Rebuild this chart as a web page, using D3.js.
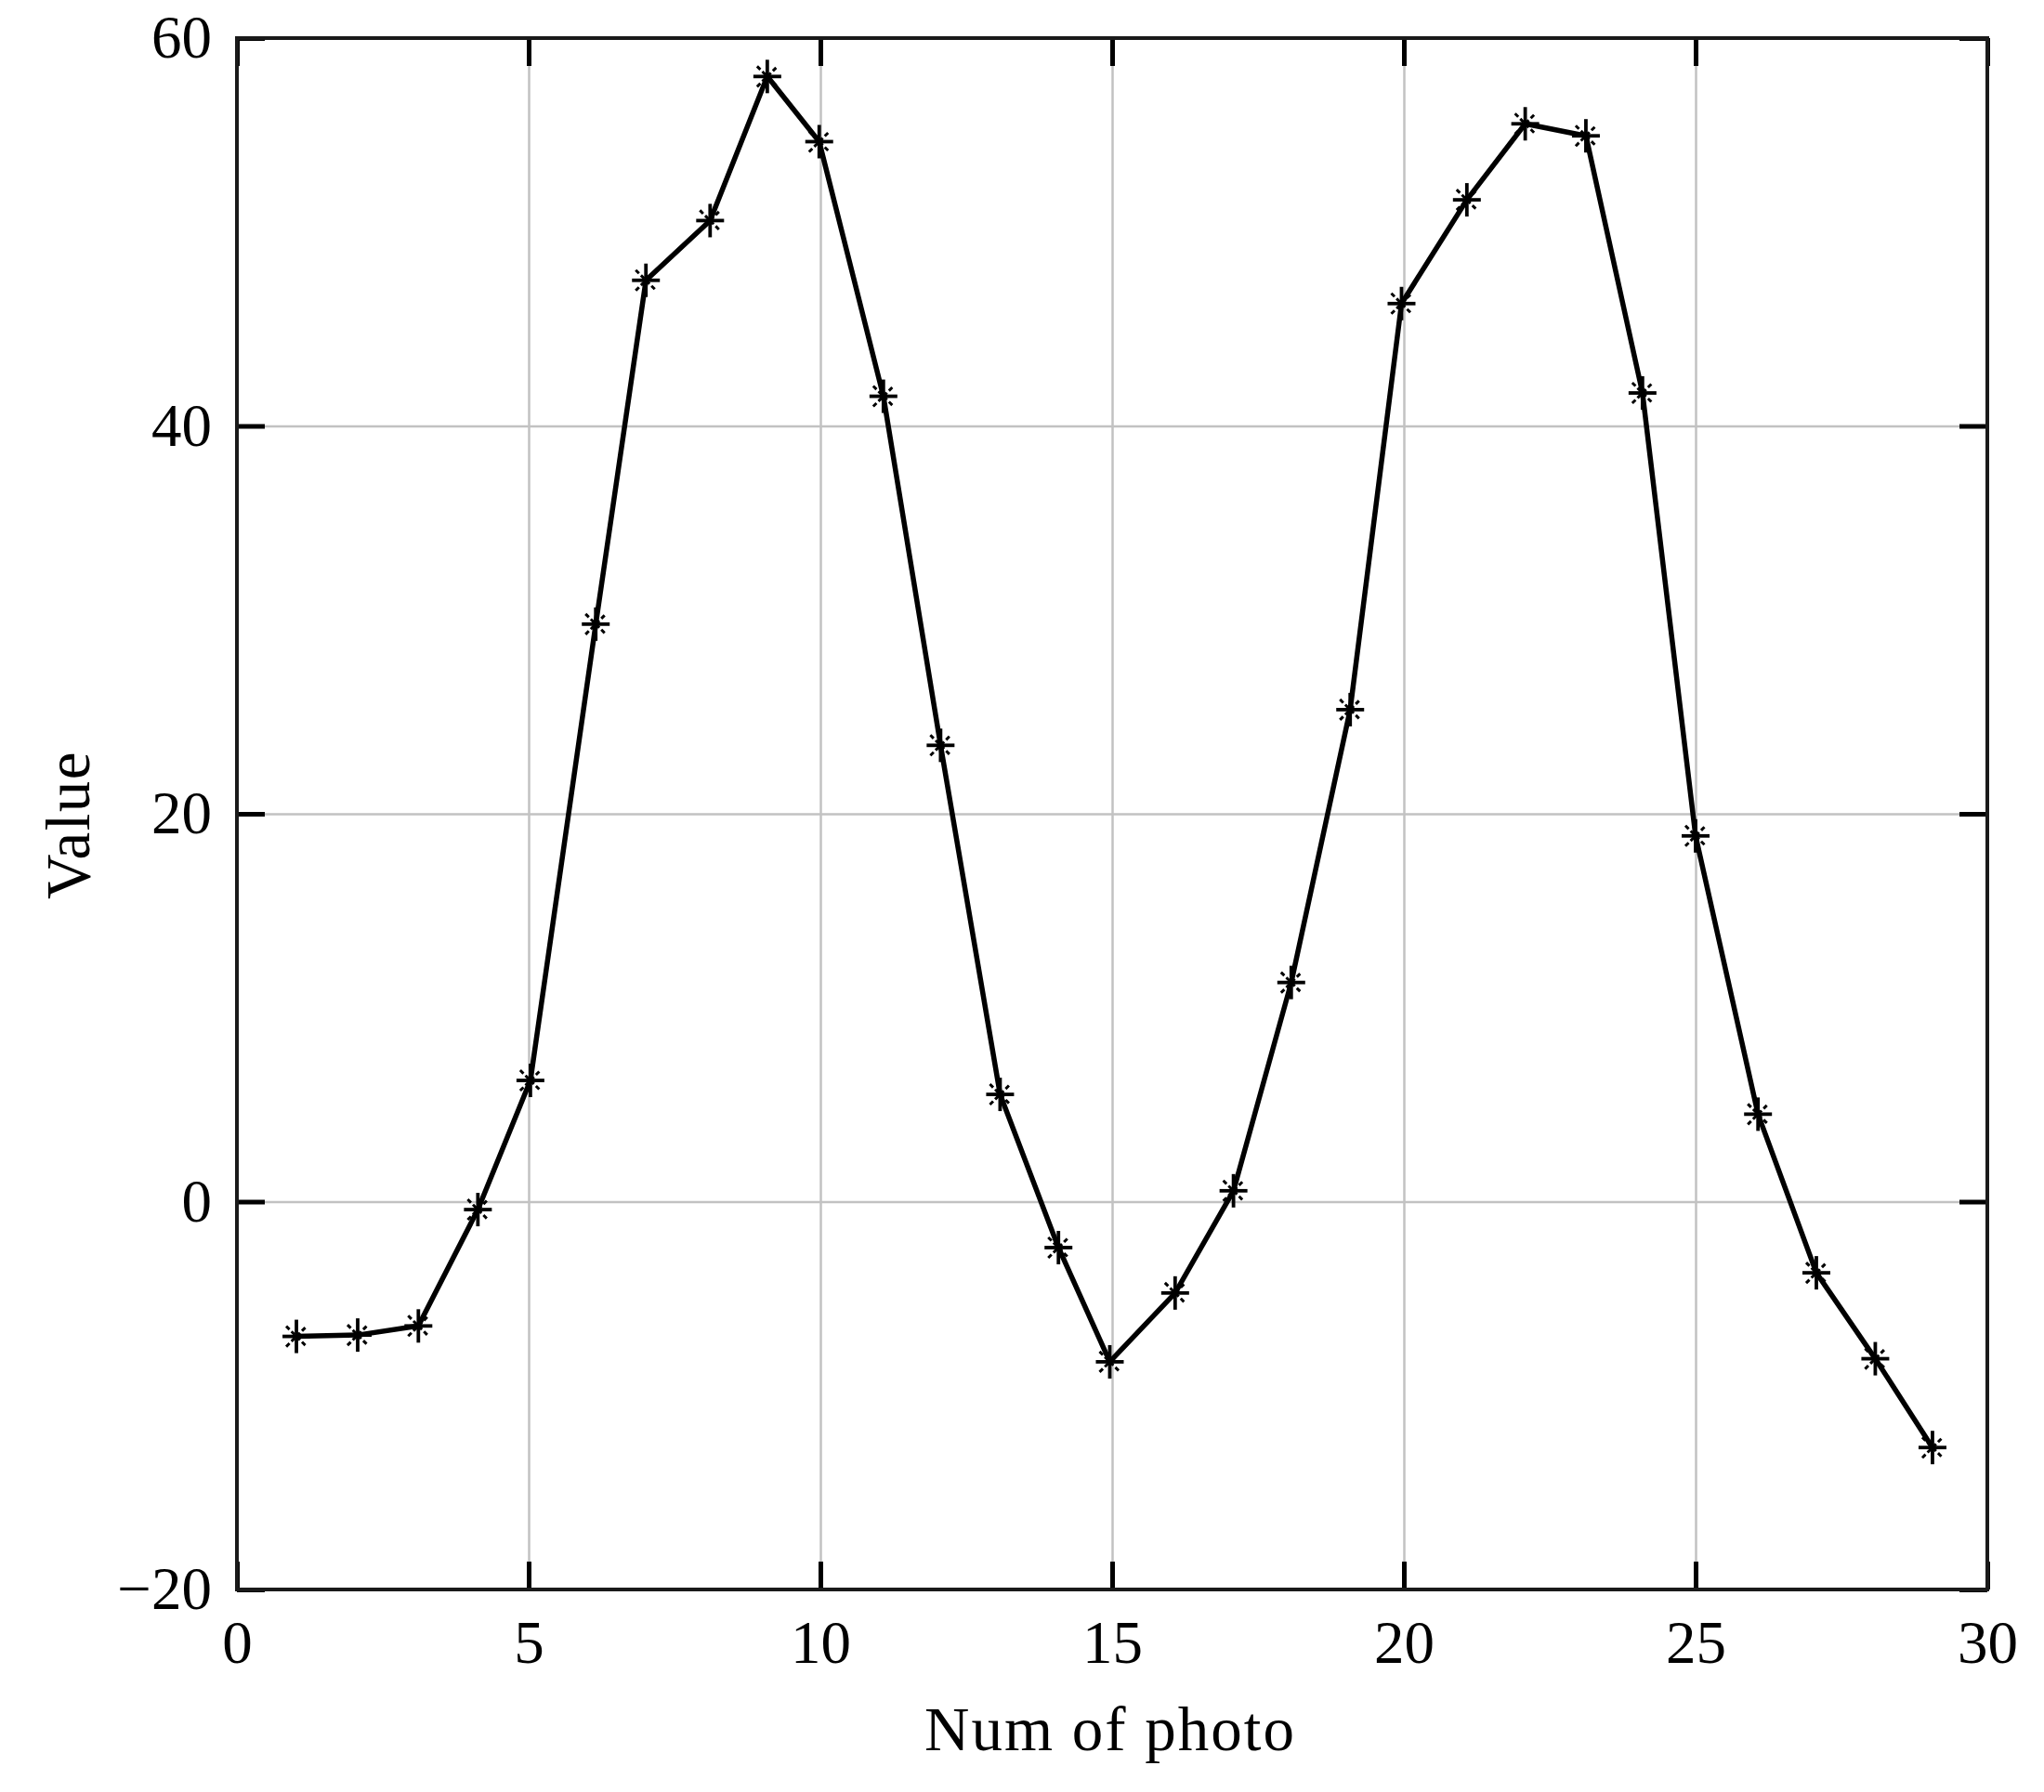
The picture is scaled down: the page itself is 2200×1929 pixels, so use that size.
<!DOCTYPE html>
<html>
<head>
<meta charset="utf-8">
<script src="https://cdn.jsdelivr.net/npm/d3@7"></script>
<style>
  html, body { margin: 0; padding: 0; background: #fff; }
  svg text { font-family: "Palatino Linotype", "Book Antiqua", Palatino, "Liberation Serif", serif; fill: #000; }
</style>
</head>
<body>
<svg id="chart" width="2200" height="1929"></svg>
<script>
// ---- data ----
const photoNum = [1.02, 2.07, 3.11, 4.13, 5.03, 6.15, 7.01, 8.11, 9.09, 9.98,
                  11.08, 12.06, 13.08, 14.08, 14.96, 16.08, 17.08, 18.07, 19.08, 19.96,
                  21.08, 22.08, 23.12, 24.09, 25.0, 26.07, 27.07, 28.08, 29.06];
const values = [-6.95, -6.88, -6.41, -0.41, 6.25, 29.78, 47.51, 50.59, 58.02, 54.66,
                41.53, 23.53, 5.53, -2.37, -8.26, -4.71, 0.56, 11.3, 25.37, 46.31,
                51.66, 55.58, 54.96, 41.7, 18.86, 4.51, -3.67, -8.1, -12.68];
const xTicks = [0, 5, 10, 15, 20, 25, 30];
const yTicks = [-20, 0, 20, 40, 60];
const xGrid = [5, 10, 15, 20, 25];
const yGrid = [0, 20, 40];
const xLabel = "Num of photo";
const yLabel = "Value";

// ---- layout ----
const L = 255, R = 2139, T = 41, B = 1711;
const W = R - L, H = B - T;
const svg = d3.select("#chart");
const g = svg.append("g").attr("transform", `translate(${L},${T})`);

const x = d3.scaleLinear().domain([0, 30]).range([0, W]);
const y = d3.scaleLinear().domain([-20, 60]).range([H, 0]);

// gridlines
const gx = g.append("g").attr("transform", `translate(0,${H})`)
  .call(d3.axisBottom(x).tickValues(xGrid).tickSize(-H).tickFormat(""));
const gy = g.append("g")
  .call(d3.axisLeft(y).tickValues(yGrid).tickSize(-W).tickFormat(""));
[gx, gy].forEach(s => {
  s.select(".domain").remove();
  s.selectAll("line").attr("stroke", "#c2c2c2").attr("stroke-width", 2.5);
});

// data line
const pts = photoNum.map((d, i) => [d, values[i]]);
g.append("path")
  .datum(pts)
  .attr("fill", "none")
  .attr("stroke", "#000")
  .attr("stroke-width", 5.5)
  .attr("stroke-linejoin", "round")
  .attr("d", d3.line().x(d => x(d[0])).y(d => y(d[1])));

// asterisk markers
const mk = g.append("g").selectAll("g").data(pts).join("g")
  .attr("transform", d => `translate(${x(d[0])},${y(d[1])})`);
mk.append("line").attr("x1", -15).attr("x2", 15).attr("y1", 0).attr("y2", 0)
  .attr("stroke", "#000").attr("stroke-width", 3.8);
mk.append("line").attr("x1", 0).attr("x2", 0).attr("y1", -18).attr("y2", 18)
  .attr("stroke", "#000").attr("stroke-width", 3.8);
mk.append("line").attr("x1", -11).attr("x2", 11).attr("y1", -11).attr("y2", 11)
  .attr("stroke", "#000").attr("stroke-width", 3).attr("stroke-dasharray", "5,3");
mk.append("line").attr("x1", -11).attr("x2", 11).attr("y1", 11).attr("y2", -11)
  .attr("stroke", "#000").attr("stroke-width", 3).attr("stroke-dasharray", "5,3");

// axes with inward ticks
const fmt = d3.format("");
const axB = g.append("g").attr("transform", `translate(0,${H})`)
  .call(d3.axisBottom(x).tickValues(xTicks).tickSize(-30).tickPadding(33).tickFormat(fmt));
const axL = g.append("g")
  .call(d3.axisLeft(y).tickValues(yTicks).tickSize(-30).tickPadding(27).tickFormat(fmt));
const axT = g.append("g")
  .call(d3.axisTop(x).tickValues(xTicks).tickSize(-30).tickFormat(""));
const axR = g.append("g").attr("transform", `translate(${W},0)`)
  .call(d3.axisRight(y).tickValues(yTicks).tickSize(-30).tickFormat(""));
[axB, axL, axT, axR].forEach(s => {
  s.select(".domain").remove();
  s.selectAll("line").attr("stroke", "#000").attr("stroke-width", 5);
  s.selectAll("text").attr("font-size", 65).attr("fill", "#000")
    .style("font-family", '"Palatino Linotype", "Book Antiqua", Palatino, "Liberation Serif", serif');
});

// frame
g.append("rect").attr("x", 0).attr("y", 0).attr("width", W).attr("height", H)
  .attr("fill", "none").attr("stroke", "#1a1a1a").attr("stroke-width", 4);

// axis titles
svg.append("text")
  .attr("x", L + W / 2 - 2).attr("y", 1884)
  .attr("text-anchor", "middle")
  .attr("font-size", 67)
  .attr("letter-spacing", 2)
  .text(xLabel);
svg.append("text")
  .attr("transform", `translate(96,${888}) rotate(-90)`)
  .attr("text-anchor", "middle")
  .attr("font-size", 67)
  .attr("letter-spacing", 1.5)
  .text(yLabel);
</script>
</body>
</html>
